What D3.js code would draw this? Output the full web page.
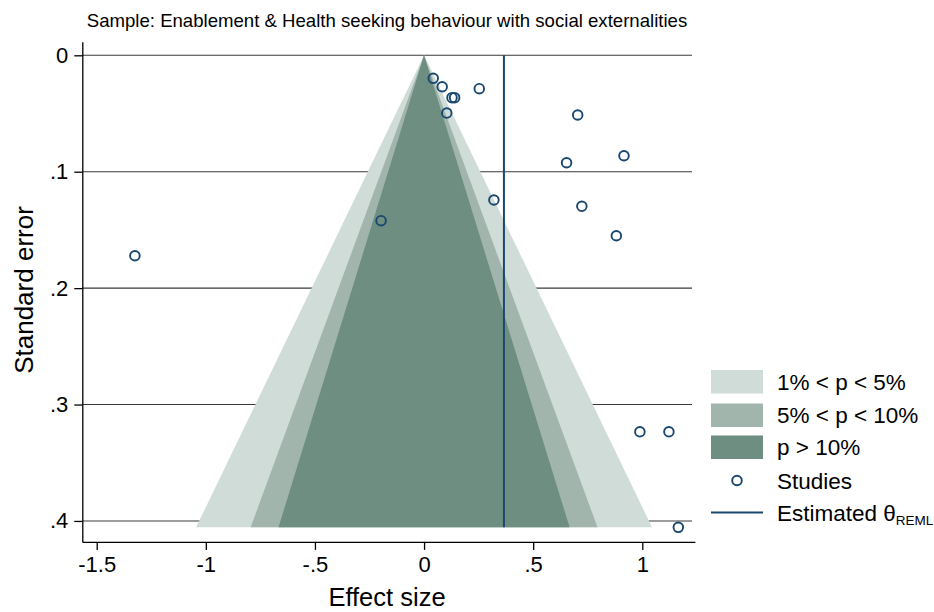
<!DOCTYPE html>
<html>
<head>
<meta charset="utf-8">
<script src="https://cdn.jsdelivr.net/npm/d3@7/dist/d3.min.js"></script>
<style>
  html, body { margin: 0; padding: 0; background: #fff; }
  svg { display: block; font-family: "Liberation Sans", Arial, sans-serif; }
</style>
</head>
<body>
<svg id="chart" width="934" height="612"></svg>
<script>
// Study effect sizes and their standard errors
const effectSize = [0.042, 0.083, 0.128, 0.140, 0.104, 0.253, 0.704, 0.653, 0.916,
                    0.320, 0.723, 0.881, -0.197, -1.325, 0.989, 1.122, 1.165];
const stdError   = [0.0198, 0.0270, 0.0364, 0.0364, 0.0496, 0.0287, 0.0513, 0.0923, 0.0863,
                    0.1243, 0.1297, 0.1550, 0.1421, 0.1722, 0.3234, 0.3234, 0.4055];

// Pooled REML estimate
const thetaREML = 0.366;

// Significance contours (two-sided z critical values) and their legend labels
const contourZ      = [2.576, 1.960, 1.645];
const contourLabels = ["1% < p < 5%", "5% < p < 10%", "p > 10%"];
const contourFill   = ["#d0dcd8", "#a1b5ad", "#6d8e81"];

// Axis ticks
const xTicks      = [-1.5, -1, -0.5, 0, 0.5, 1];
const xTickLabels = ["-1.5", "-1", "-.5", "0", ".5", "1"];
const yTicks      = [0, 0.1, 0.2, 0.3, 0.4];
const yTickLabels = ["0", ".1", ".2", ".3", ".4"];

const navy = "#1a476f";
const tickFont = 22, legendFont = 22.5;

const svg = d3.select("#chart");

const x = d3.scaleLinear().domain([-1.566, 1.241]).range([82.3, 694.9]);
const y = d3.scaleLinear().domain([-0.0116, 0.418]).range([41.8, 541.9]);

const maxSE = d3.max(stdError);

// Grid lines
svg.append("g")
  .selectAll("line")
  .data(yTicks)
  .join("line")
  .attr("x1", x.range()[0]).attr("x2", 692)
  .attr("y1", d => y(d)).attr("y2", d => y(d))
  .attr("stroke", "#3a3a3a").attr("stroke-width", 1.1);

// Contour-enhanced funnel regions, widest first
svg.append("g")
  .selectAll("path")
  .data(contourZ)
  .join("path")
  .attr("d", (z, i) => d3.line()([
      [x(0), y(0)],
      [x(-z * maxSE), y(maxSE)],
      [x(z * maxSE), y(maxSE)]
    ]) + "Z")
  .attr("fill", (z, i) => contourFill[i]);

// Estimated effect line
svg.append("line")
  .attr("x1", x(thetaREML)).attr("x2", x(thetaREML))
  .attr("y1", y(0)).attr("y2", y(maxSE))
  .attr("stroke", navy).attr("stroke-width", 2);

// Studies
svg.append("g")
  .selectAll("circle")
  .data(effectSize.map((e, i) => ({ e, se: stdError[i] })))
  .join("circle")
  .attr("cx", d => x(d.e)).attr("cy", d => y(d.se))
  .attr("r", 4.8)
  .attr("fill", "none")
  .attr("stroke", navy).attr("stroke-width", 1.9);

// X axis
const xAxis = svg.append("g")
  .attr("transform", `translate(0,${y.range()[1]})`)
  .call(d3.axisBottom(x).tickValues(xTicks)
    .tickFormat((d, i) => xTickLabels[i]).tickSize(8).tickSizeOuter(0).tickPadding(6));
xAxis.select(".domain").attr("stroke", "#000").attr("stroke-width", 1.3);
xAxis.selectAll(".tick line").attr("stroke", "#000").attr("stroke-width", 1.3);
xAxis.selectAll(".tick text").attr("font-size", tickFont).attr("fill", "#000")
  .attr("font-family", "Liberation Sans, Arial, sans-serif");

// Y axis
const yAxis = svg.append("g")
  .attr("transform", `translate(${x.range()[0]},0)`)
  .call(d3.axisLeft(y).tickValues(yTicks)
    .tickFormat((d, i) => yTickLabels[i]).tickSize(8).tickSizeOuter(0).tickPadding(6));
yAxis.select(".domain").attr("stroke", "#000").attr("stroke-width", 1.3);
yAxis.selectAll(".tick line").attr("stroke", "#000").attr("stroke-width", 1.3);
yAxis.selectAll(".tick text").attr("font-size", tickFont).attr("fill", "#000")
  .attr("font-family", "Liberation Sans, Arial, sans-serif");

// Axis titles
svg.append("text")
  .attr("x", 387).attr("y", 606)
  .attr("text-anchor", "middle")
  .attr("font-size", 25.5)
  .text("Effect size");

svg.append("text")
  .attr("transform", "translate(33,290) rotate(-90)")
  .attr("text-anchor", "middle")
  .attr("font-size", 26)
  .text("Standard error");

// Title
svg.append("text")
  .attr("x", 387).attr("y", 27)
  .attr("text-anchor", "middle")
  .attr("font-size", 18.6)
  .text("Sample: Enablement & Health seeking behaviour with social externalities");

// Legend
const legend = svg.append("g");
const lx = 711, lw = 52, tx = 777;
const rowY = [381.5, 415, 447, 480.5, 512.5];

contourLabels.forEach((lab, i) => {
  legend.append("rect")
    .attr("x", lx).attr("y", rowY[i] - 11.5)
    .attr("width", lw).attr("height", 23.5)
    .attr("fill", contourFill[i]);
  legend.append("text")
    .attr("x", tx).attr("y", rowY[i]).attr("dy", "0.36em")
    .attr("font-size", legendFont).text(lab);
});

legend.append("circle")
  .attr("cx", lx + lw / 2).attr("cy", rowY[3]).attr("r", 4.8)
  .attr("fill", "none").attr("stroke", navy).attr("stroke-width", 1.9);
legend.append("text")
  .attr("x", tx).attr("y", rowY[3]).attr("dy", "0.36em")
  .attr("font-size", legendFont).text("Studies");

legend.append("line")
  .attr("x1", lx).attr("x2", lx + lw)
  .attr("y1", rowY[4]).attr("y2", rowY[4])
  .attr("stroke", navy).attr("stroke-width", 2);
const est = legend.append("text")
  .attr("x", tx).attr("y", rowY[4]).attr("dy", "0.36em")
  .attr("font-size", legendFont);
est.append("tspan").text("Estimated \u03B8");
est.append("tspan").attr("font-size", 13.5).attr("dy", "0.35em").text("REML");
</script>
</body>
</html>
